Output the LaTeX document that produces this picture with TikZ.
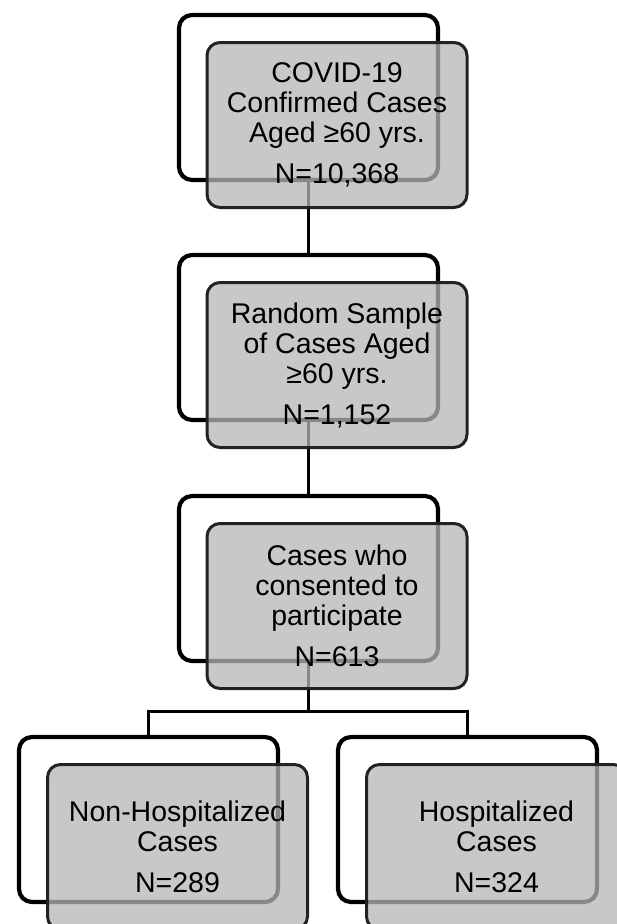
\documentclass[tikz,border=0pt]{standalone}
\usepackage{fontspec}
\setmainfont{Liberation Sans}
\definecolor{frontgray}{RGB}{182,182,182}
\definecolor{frontline}{RGB}{34,34,34}
\begin{document}
\begin{tikzpicture}[x=1pt,y=-1pt,
  back/.style={draw=black, line width=4.2pt, rounded corners=13pt, fill=white,
    minimum width=259pt, minimum height=165pt, inner sep=0pt},
  front/.style={draw=frontline, line width=3pt, rounded corners=13pt, fill=frontgray,
    fill opacity=0.75, text opacity=1, minimum width=260pt, minimum height=165pt,
    inner sep=0pt, align=center, font=\fontsize{28.5pt}{30pt}\selectfont},
  conn/.style={draw=black, line width=3pt}]
\useasboundingbox (0,0) rectangle (617,924);
\clip (0,0) rectangle (617,924);
\fill[white] (0,0) rectangle (617,924);
% back boxes
\node[back] (b1) at (308.5,97.5) {};
\node[back] (b2) at (308.5,337.5) {};
\node[back] (b3) at (308.5,578.5) {};
\node[back] (b4) at (148.5,819.5) {};
\node[back] (b5) at (467.5,819.5) {};
% connectors
\coordinate (split) at (308.5,711.5);
\draw[conn] (b1.south) -- (b2.north);
\draw[conn] (b2.south) -- (b3.north);
\draw[conn] (b3.south) -- (split);
\draw[conn] (b4.north) |- (split) -| (b5.north);
% front boxes
\node[front] (f1) at (337,125) {COVID-19\\Confirmed Cases\\Aged ≥60 yrs.\\[11pt]N=10,368};
\node[front] (f2) at (337,365) {Random Sample\\of Cases Aged\\≥60 yrs.\\[11pt]N=1,152};
\node[front] (f3) at (337,606) {Cases who\\consented to\\participate\\[11pt]N=613};
\node[front] (f4) at (177.5,847) {Non-Hospitalized\\Cases\\[11pt]N=289};
\node[front] (f5) at (496.5,847) {Hospitalized\\Cases\\[11pt]N=324};
\end{tikzpicture}
\end{document}
